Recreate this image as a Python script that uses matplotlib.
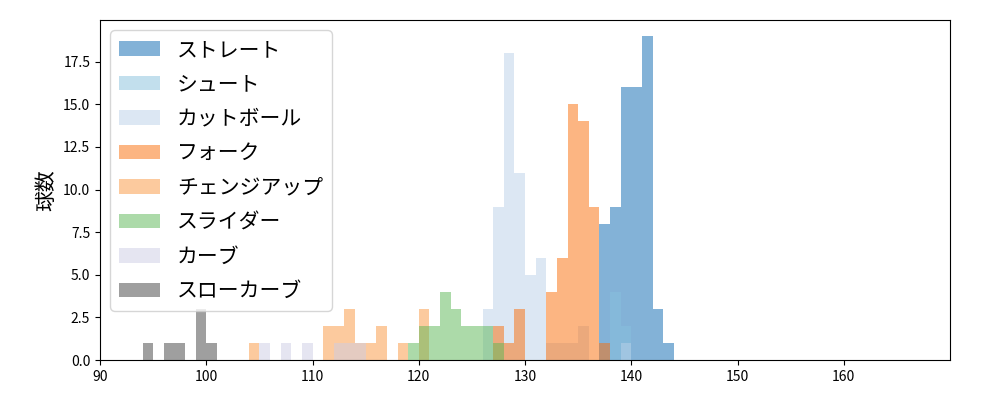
import matplotlib.pyplot as plt

plt.rcParams['font.family'] = ['Noto Sans CJK JP', 'DejaVu Sans']

# 球種ごとの球速ビン(左端, km/h)と球数
names = ["ストレート", "シュート", "カットボール", "フォーク", "チェンジアップ",
         "スライダー", "カーブ", "スローカーブ"]
bins_straight = [137, 138, 139, 140, 141, 142, 143]
cnt_straight = [8, 9, 16, 16, 19, 3, 1]
bins_shoot = [138, 139]
cnt_shoot = [4, 2]
bins_cutter = [126, 127, 128, 129, 130, 131, 132, 133, 134, 135, 139]
cnt_cutter = [3, 9, 18, 11, 5, 6, 1, 1, 1, 2, 1]
bins_fork = [127, 128, 129, 132, 133, 134, 135, 136, 137]
cnt_fork = [2, 1, 3, 4, 6, 15, 14, 9, 1]
bins_change = [104, 111, 112, 113, 114, 115, 116, 118, 120]
cnt_change = [1, 2, 2, 3, 1, 1, 2, 1, 3]
bins_slider = [119, 120, 121, 122, 123, 124, 125, 126, 127]
cnt_slider = [1, 2, 2, 4, 3, 2, 2, 2, 1]
bins_curve = [105, 107, 109, 112, 113, 114]
cnt_curve = [1, 1, 1, 1, 1, 1]
bins_slow = [94, 96, 97, 99, 100]
cnt_slow = [1, 1, 1, 3, 1]

series = [(bins_straight, cnt_straight, "#0967b1"),
          (bins_shoot, cnt_shoot, "#87c1dd"),
          (bins_cutter, cnt_cutter, "#bbd1e9"),
          (bins_fork, cnt_fork, "#fb6d07"),
          (bins_change, cnt_change, "#fb973f"),
          (bins_slider, cnt_slider, "#5bb755"),
          (bins_curve, cnt_curve, "#cdcde5"),
          (bins_slow, cnt_slow, "#414141")]

fig, ax = plt.subplots(figsize=(10, 4), dpi=100)
for name, (b, c, col) in zip(names, series):
    ax.bar(b, c, width=1, align="edge", color=col, alpha=0.5, label=name)

ax.set_xlim(90, 170)
ax.set_xticks(range(90, 170, 10))
ax.set_ylim(0, 19.95)
ax.set_yticks([0, 2.5, 5, 7.5, 10, 12.5, 15, 17.5])
ax.set_ylabel("球数", fontsize=15)
ax.legend(loc="upper left", fontsize=15, labelspacing=0.6)

plt.subplots_adjust(left=0.1, right=0.95, top=0.95, bottom=0.1)
plt.savefig("out.png")
